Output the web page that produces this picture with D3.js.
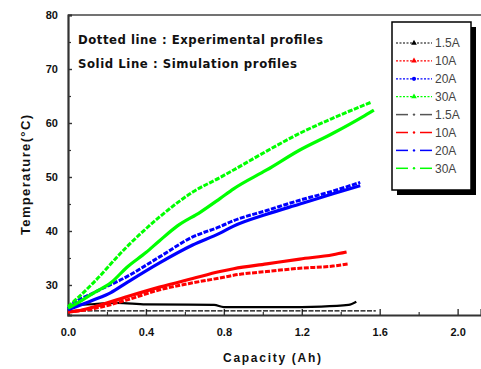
<!DOCTYPE html>
<html>
<head>
<meta charset="utf-8">
<script src="https://cdn.jsdelivr.net/npm/d3@7"></script>
<style>
  body { margin: 0; background: #fff; }
  svg { display: block; font-family: "Liberation Sans", Arial, sans-serif; }
</style>
</head>
<body>
<svg id="chart" width="481" height="369"></svg>
<script>
/* tick labels */
let xTicks = [0, 0.4, 0.8, 1.2, 1.6, 2.0];
let xMinorTicks = [0.2, 0.6, 1.0, 1.4, 1.8];
let yTicks = [30, 40, 50, 60, 70, 80];
let yMinorTicks = [35, 45, 55, 65, 75];

/* series: capacity (Ah) and temperature (C) */
let exp30Cap = [0, 0.05, 0.13, 0.30, 0.47, 0.64, 0.78, 0.85, 1.02, 1.19, 1.36, 1.56];
let exp30Temp = [26.0, 27.6, 30.4, 37.0, 42.6, 47.2, 49.9, 51.3, 54.8, 58.1, 60.9, 63.9];
let sim30Cap = [0, 0.05, 0.13, 0.22, 0.30, 0.40, 0.47, 0.56, 0.68, 0.78, 0.85, 1.02, 1.19, 1.36, 1.51, 1.57];
let sim30Temp = [25.7, 26.7, 28.5, 30.4, 33.2, 36.0, 38.2, 40.9, 43.5, 46.0, 47.8, 51.3, 55.0, 58.1, 61.1, 62.4];

let exp20Cap = [0, 0.01, 0.13, 0.30, 0.47, 0.64, 0.78, 0.85, 1.02, 1.19, 1.36, 1.50];
let exp20Temp = [25.6, 26.0, 28.5, 31.5, 35.2, 38.9, 40.8, 41.9, 43.8, 45.7, 47.4, 49.0];
let sim20Cap = [0, 0.13, 0.22, 0.30, 0.47, 0.64, 0.78, 0.85, 1.02, 1.19, 1.36, 1.50];
let sim20Temp = [25.4, 27.2, 28.6, 30.4, 34.1, 37.4, 39.6, 40.9, 43.1, 45.0, 46.9, 48.4];

let exp10Cap = [0, 0.13, 0.30, 0.47, 0.64, 0.78, 0.85, 1.02, 1.19, 1.36, 1.44];
let exp10Temp = [25.0, 25.6, 27.2, 29.1, 30.4, 31.3, 31.8, 32.5, 33.1, 33.5, 33.9];
let sim10Cap = [0, 0.05, 0.13, 0.30, 0.47, 0.64, 0.78, 0.85, 1.02, 1.19, 1.36, 1.43];
let sim10Temp = [25.0, 25.2, 25.9, 27.8, 29.6, 31.2, 32.5, 33.0, 33.9, 34.8, 35.6, 36.1];

let exp1Cap = [0, 0.4, 0.8, 1.2, 1.58];
let exp1Temp = [25.2, 25.2, 25.2, 25.2, 25.2];
let sim1Cap = [0, 0.1, 0.25, 0.4, 0.75, 0.8, 1.1, 1.3, 1.44, 1.48];
let sim1Temp = [26.2, 26.4, 26.7, 26.4, 26.3, 25.9, 25.9, 26.0, 26.3, 26.9];

let legendLabels = ["1.5A", "10A", "20A", "30A", "1.5A", "10A", "20A", "30A"];
let seriesColors = ["#000000", "#ff0000", "#0000ff", "#00ff00"];

let series = [
    { cap: exp1Cap, temp: exp1Temp, color: seriesColors[0], exp: true, width: 1.2 },
    { cap: sim1Cap, temp: sim1Temp, color: seriesColors[0], exp: false, width: 2.2 },
    { cap: exp10Cap, temp: exp10Temp, color: seriesColors[1], exp: true },
    { cap: sim10Cap, temp: sim10Temp, color: seriesColors[1], exp: false },
    { cap: exp20Cap, temp: exp20Temp, color: seriesColors[2], exp: true },
    { cap: sim20Cap, temp: sim20Temp, color: seriesColors[2], exp: false },
    { cap: exp30Cap, temp: exp30Temp, color: seriesColors[3], exp: true },
    { cap: sim30Cap, temp: sim30Temp, color: seriesColors[3], exp: false },
];

let svg = d3.select("svg#chart");

let plot = { left: 68, right: 481, top: 15, bottom: 315 };

let xScale = d3.scaleLinear().domain([0, 2.12]).range([plot.left, plot.right]);
let yScale = d3.scaleLinear().domain([24.44, 80]).range([plot.bottom, plot.top]);

/* top frame line */
svg.append("line")
    .attr("x1", plot.left).attr("x2", plot.right)
    .attr("y1", plot.top).attr("y2", plot.top)
    .attr("stroke", "#444").attr("stroke-width", 1.5);

/* minor ticks */
svg.append("g")
    .attr("transform", "translate(0," + plot.bottom + ")")
    .call(d3.axisBottom(xScale).tickValues(xMinorTicks).tickSize(-3).tickFormat(""))
    .call(g => g.select(".domain").remove())
    .selectAll("line").attr("stroke", "#333").attr("stroke-width", 1.2);
svg.append("g")
    .attr("transform", "translate(" + plot.left + ",0)")
    .call(d3.axisLeft(yScale).tickValues(yMinorTicks).tickSize(-3).tickFormat(""))
    .call(g => g.select(".domain").remove())
    .selectAll("line").attr("stroke", "#333").attr("stroke-width", 1.2);

/* major axes */
let xAxisG = svg.append("g")
    .attr("transform", "translate(0," + plot.bottom + ")")
    .call(d3.axisBottom(xScale).tickValues(xTicks).tickSize(-6).tickPadding(13)
        .tickFormat(d3.format(".1f")));
let yAxisG = svg.append("g")
    .attr("transform", "translate(" + plot.left + ",0)")
    .call(d3.axisLeft(yScale).tickValues(yTicks).tickSize(-4).tickPadding(10)
        .tickFormat(d3.format("d")));

[xAxisG, yAxisG].forEach(g => {
    g.select(".domain").attr("stroke", "#333").attr("stroke-width", 2.2);
    g.selectAll(".tick line").attr("stroke", "#333").attr("stroke-width", 1.4);
    g.selectAll(".tick text")
        .attr("fill", "#111")
        .style("font-size", "11px")
        .style("font-weight", "bold");
});

/* data lines */
let line = d3.line()
    .x(d => xScale(d[0]))
    .y(d => yScale(d[1]))
    .curve(d3.curveMonotoneX);

series.forEach(s => {
    let pts = s.cap.map((c, i) => [c, s.temp[i]]);
    svg.append("path")
        .datum(pts)
        .attr("d", line)
        .attr("fill", "none")
        .attr("stroke", s.color)
        .attr("stroke-width", s.width || (s.exp ? 3 : 3.2))
        .attr("stroke-dasharray", s.exp ? "5,1.5" : null)
        .attr("stroke-linecap", "butt");
});

/* axis titles */
svg.append("text")
    .attr("x", 272).attr("y", 362)
    .attr("text-anchor", "middle")
    .attr("textLength", 98)
    .style("font-size", "12px").style("font-weight", "bold")
    .attr("fill", "#111")
    .text("Capacity (Ah)");
svg.append("text")
    .attr("transform", "translate(30,175)rotate(270)")
    .attr("text-anchor", "middle")
    .attr("textLength", 120)
    .style("font-size", "13px").style("font-weight", "bold")
    .attr("fill", "#111")
    .text("Temperature(\u00b0C)");

/* annotations */
svg.append("text")
    .attr("x", 78).attr("y", 44)
    .attr("textLength", 245)
    .style("font-size", "13px").style("font-weight", "bold")
    .style("font-family", "'DejaVu Sans Condensed', 'DejaVu Sans', sans-serif")
    .attr("fill", "#111")
    .text("Dotted line : Experimental profiles");
svg.append("text")
    .attr("x", 78).attr("y", 68)
    .attr("textLength", 219)
    .style("font-size", "13px").style("font-weight", "bold")
    .style("font-family", "'DejaVu Sans Condensed', 'DejaVu Sans', sans-serif")
    .attr("fill", "#111")
    .text("Solid Line : Simulation profiles");

/* legend */
let legend = svg.append("g").attr("class", "legend");
legend.append("rect")
    .attr("x", 397).attr("y", 27).attr("width", 79).attr("height", 168)
    .attr("fill", "#000");
legend.append("rect")
    .attr("x", 392).attr("y", 22).attr("width", 79).attr("height", 168)
    .attr("fill", "#fff").attr("stroke", "#000").attr("stroke-width", 1.5);

legendLabels.forEach((label, i) => {
    let y = 43 + i * 17.9;
    let color = seriesColors[i % 4];
    let isExp = i < 4;
    let item = legend.append("g").attr("transform", "translate(0," + y + ")");
    if (isExp) {
        item.append("line")
            .attr("x1", 396).attr("x2", 432).attr("y1", 0).attr("y2", 0)
            .attr("stroke", color).attr("stroke-width", 1.2)
            .attr("stroke-dasharray", "2,1.5");
        item.append("path")
            .attr("d", d3.symbol().type(i === 2 ? d3.symbolCircle : d3.symbolTriangle).size(14)())
            .attr("transform", "translate(414,0)")
            .attr("fill", color);
    } else {
        item.append("line")
            .attr("x1", 396).attr("x2", 408).attr("y1", 0).attr("y2", 0)
            .attr("stroke", i === 4 ? "#555" : color).attr("stroke-width", 1.5);
        item.append("line")
            .attr("x1", 420).attr("x2", 432).attr("y1", 0).attr("y2", 0)
            .attr("stroke", i === 4 ? "#555" : color).attr("stroke-width", 1.5);
        item.append("circle")
            .attr("cx", 414).attr("cy", 0).attr("r", 1.2)
            .attr("fill", i === 4 ? "#555" : color);
    }
    item.append("text")
        .attr("x", 435).attr("y", 0)
        .attr("dy", "0.36em")
        .style("font-size", "12px")
        .attr("fill", "#444")
        .text(label);
});
</script>
</body>
</html>
